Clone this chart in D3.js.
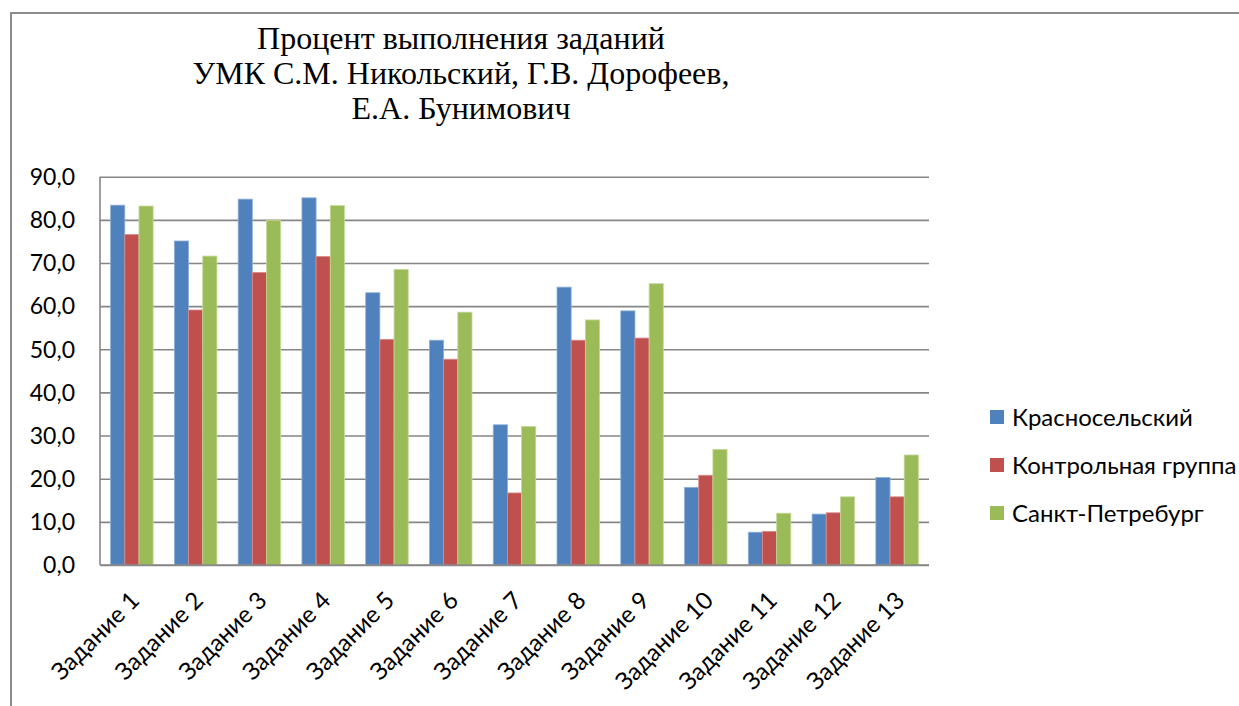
<!DOCTYPE html>
<html>
<head>
<meta charset="utf-8">
<script src="https://cdn.jsdelivr.net/npm/d3@7"></script>
<style>
  body { margin: 0; background: #fff; }
  svg { display: block; }
</style>
</head>
<body>
<div id="chart"></div>
<script>
// data
var categories = ["Задание 1", "Задание 2", "Задание 3", "Задание 4", "Задание 5", "Задание 6", "Задание 7",
                  "Задание 8", "Задание 9", "Задание 10", "Задание 11", "Задание 12", "Задание 13"];
var seriesNames = ["Красносельский", "Контрольная группа", "Санкт-Петребург"];
var krasnoselsky = [83.4, 75.1, 84.8, 85.1, 63.1, 52.1, 32.5, 64.4, 58.9, 18.0, 7.6, 11.8, 20.3];
var control = [76.6, 59.1, 67.8, 71.5, 52.3, 47.7, 16.7, 52.1, 52.6, 20.8, 7.8, 12.1, 15.8];
var spb = [83.2, 71.6, 79.9, 83.3, 68.5, 58.6, 32.1, 56.8, 65.2, 26.8, 12.0, 15.8, 25.5];
var yTicks = [0, 10, 20, 30, 40, 50, 60, 70, 80, 90];
var titleLines = ["Процент выполнения заданий", "УМК С.М. Никольский, Г.В. Дорофеев,", "Е.А. Бунимович"];
var colors = ["#4F81BD", "#C0504D", "#9BBB59"];
var edgeColors = ["#8fb0d8", "#d98a88", "#c4d89a"];

var W = 1239, H = 706;
var values = [krasnoselsky, control, spb];
var sans = "Lato, 'Open Sans', sans-serif";

var svg = d3.select("#chart").append("svg")
    .attr("width", W)
    .attr("height", H);

// outer frame (only top and left edges are visible)
svg.append("path")
    .attr("d", "M11,706 L11,13 L1239,13")
    .attr("fill", "none")
    .attr("stroke", "#8c8c8c")
    .attr("stroke-width", 2);

// title
svg.append("text")
    .attr("x", 461)
    .attr("y", 49)
    .attr("text-anchor", "middle")
    .style("font-family", "'Liberation Serif', 'DejaVu Serif', serif")
    .style("font-size", "32px")
    .attr("fill", "#000")
    .selectAll("tspan")
    .data(titleLines)
    .enter().append("tspan")
    .attr("x", 461)
    .attr("dy", function(d, i) { return i === 0 ? 0 : 35; })
    .text(function(d) { return d; });

var x = d3.scaleBand()
    .domain(categories)
    .range([100, 929])
    .paddingInner(1 / 3)
    .paddingOuter(1 / 6);

var xs = d3.scaleBand()
    .domain(d3.range(seriesNames.length))
    .range([0, x.bandwidth()]);

var y = d3.scaleLinear()
    .domain([0, 90])
    .range([565, 176.7]);

var fmt = function(v) { return d3.format(".1f")(v).replace(".", ","); };

// gridlines
svg.append("g")
    .attr("transform", "translate(100,0)")
    .call(d3.axisLeft(y).tickValues(yTicks).tickSize(-829).tickFormat(""))
    .call(function(g) {
        g.select(".domain").remove();
        g.selectAll(".tick line").attr("stroke", "#868686").attr("stroke-width", 1.6);
    });

// y labels
svg.append("g")
    .selectAll("text")
    .data(yTicks)
    .enter().append("text")
    .attr("x", 75)
    .attr("y", function(d) { return y(d); })
    .attr("dy", "0.36em")
    .attr("text-anchor", "end")
    .style("font-family", sans)
    .style("font-size", "23px")
    .attr("fill", "#000")
    .text(fmt);

// bars
var groups = svg.append("g")
    .selectAll("g")
    .data(categories)
    .enter().append("g")
    .attr("transform", function(d) { return "translate(" + x(d) + ",0)"; });

groups.selectAll("rect")
    .data(function(d, i) { return values.map(function(s, k) { return { k: k, v: s[i] }; }); })
    .enter().append("rect")
    .attr("x", function(d) { return xs(d.k); })
    .attr("width", xs.bandwidth())
    .attr("y", function(d) { return y(d.v); })
    .attr("height", function(d) { return y(0) - y(d.v); })
    .attr("fill", function(d) { return colors[d.k]; })
    .attr("stroke", function(d) { return edgeColors[d.k]; })
    .attr("stroke-width", 0.8);

// axis lines
svg.append("line")
    .attr("x1", 100).attr("x2", 100)
    .attr("y1", 176.7).attr("y2", 565)
    .attr("stroke", "#868686").attr("stroke-width", 1.6);
svg.append("line")
    .attr("x1", 100).attr("x2", 929)
    .attr("y1", 565).attr("y2", 565)
    .attr("stroke", "#868686").attr("stroke-width", 1.6);

// category labels, rotated
svg.append("g")
    .selectAll("text")
    .data(categories)
    .enter().append("text")
    .attr("transform", function(d) {
        var cx = x(d) + x.bandwidth() / 2;
        return "translate(" + (cx + 9) + ",602) rotate(-45)";
    })
    .attr("text-anchor", "end")
    .style("font-family", sans)
    .style("font-size", "24px")
    .attr("fill", "#000")
    .text(function(d) { return d; });

// legend
var legend = svg.append("g")
    .selectAll("g")
    .data(seriesNames)
    .enter().append("g")
    .attr("transform", function(d, i) { return "translate(990," + (417 + i * 48) + ")"; });

legend.append("rect")
    .attr("x", 0).attr("y", -7)
    .attr("width", 14).attr("height", 14)
    .attr("fill", function(d, i) { return colors[i]; });

legend.append("text")
    .attr("x", 22)
    .attr("dy", "0.36em")
    .style("font-family", sans)
    .style("font-size", "24px")
    .attr("fill", "#000")
    .text(function(d) { return d; });
</script>
</body>
</html>
